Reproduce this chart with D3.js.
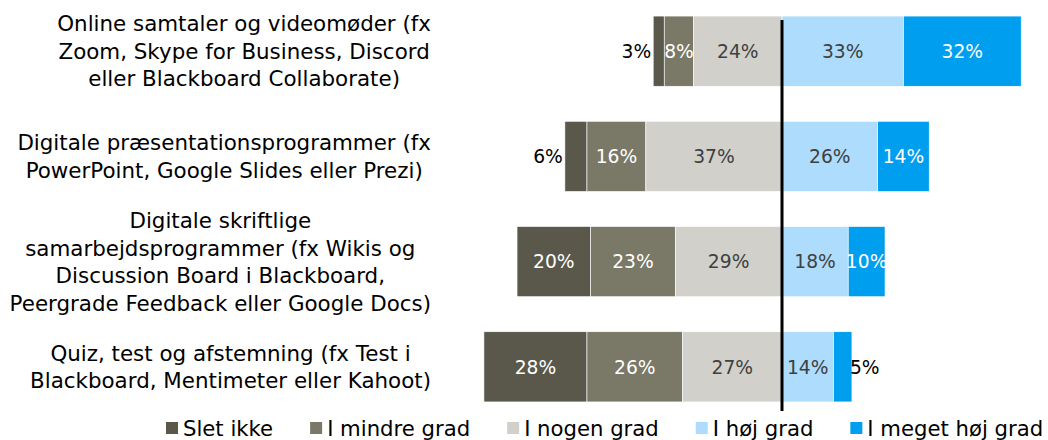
<!DOCTYPE html>
<html>
<head>
<meta charset="utf-8">
<script src="https://cdn.jsdelivr.net/npm/d3@7"></script>
<style>
  html, body { margin: 0; padding: 0; background: #fff; }
  svg { display: block; font-family: "DejaVu Sans", Verdana, sans-serif; }
</style>
</head>
<body>
<svg id="chart" width="1048" height="440"></svg>
<script>
// Categories (line breaks mark how each label wraps)
const categories = [
  "Online samtaler og videomøder (fx\nZoom, Skype for Business, Discord\neller Blackboard Collaborate)",
  "Digitale præsentationsprogrammer (fx\nPowerPoint, Google Slides eller Prezi)",
  "Digitale skriftlige\nsamarbejdsprogrammer (fx Wikis og\nDiscussion Board i Blackboard,\nPeergrade Feedback eller Google Docs)",
  "Quiz, test og afstemning (fx Test i\nBlackboard, Mentimeter eller Kahoot)"
];

const seriesNames = ["Slet ikke", "I mindre grad", "I nogen grad", "I høj grad", "I meget høj grad"];

// Shares in percent, one value per category
const sletIkke       = [3, 6, 20, 28];
const iMindreGrad    = [8, 16, 23, 26];
const iNogenGrad     = [24, 37, 29, 27];
const iHoejGrad      = [33, 26, 18, 14];
const iMegetHoejGrad = [32, 14, 10, 5];

const colors = ["#5a584b", "#7a7866", "#d1d0cb", "#aedcfd", "#009eef"];
const labelColors = ["#ffffff", "#ffffff", "#404040", "#404040", "#ffffff"];

const svg = d3.select("#chart");

const x = d3.scaleLinear().domain([-80, 70]).range([487.6, 1039.6]);
const y = d3.scaleBand().domain(categories).range([-1.5, 419.5])
  .paddingInner(0.333).paddingOuter(0.167);

// Diverging segments: the three lower answers sit left of zero,
// the two higher answers to the right.
const segments = [];
categories.forEach((cat, i) => {
  const v = [sletIkke[i], iMindreGrad[i], iNogenGrad[i], iHoejGrad[i], iMegetHoejGrad[i]];
  const left2 = -v[2], left1 = left2 - v[1], left0 = left1 - v[0];
  segments.push({ cat, s: 0, x0: left0, x1: left1, v: v[0], outer: "left" });
  segments.push({ cat, s: 1, x0: left1, x1: left2, v: v[1] });
  segments.push({ cat, s: 2, x0: left2, x1: 0, v: v[2] });
  segments.push({ cat, s: 3, x0: 0, x1: v[3], v: v[3] });
  segments.push({ cat, s: 4, x0: v[3], x1: v[3] + v[4], v: v[4], outer: "right" });
});

svg.append("g").selectAll("rect").data(segments).join("rect")
  .attr("x", d => x(d.x0))
  .attr("y", d => y(d.cat))
  .attr("width", d => x(d.x1) - x(d.x0))
  .attr("height", y.bandwidth())
  .attr("fill", d => colors[d.s])
  .attr("stroke", "#ffffff")
  .attr("stroke-width", 0.6);

// Zero line
svg.append("line")
  .attr("x1", x(0)).attr("x2", x(0))
  .attr("y1", y(categories[0]) + 4)
  .attr("y2", y(categories[categories.length - 1]) + y.bandwidth() + 9)
  .attr("stroke", "#000").attr("stroke-width", 3);

// Value labels; very small outer segments get their label just outside the bar
const labelSize = 18.7;
svg.append("g").selectAll("text").data(segments).join("text")
  .attr("font-size", labelSize)
  .attr("y", d => y(d.cat) + y.bandwidth() / 2 + labelSize * 0.36)
  .each(function (d) {
    const t = d3.select(this);
    const small = d.v < 7 && d.outer;
    if (small && d.outer === "left") {
      t.attr("x", x(d.x0) - 2).attr("text-anchor", "end").attr("fill", "#000");
    } else if (small && d.outer === "right") {
      t.attr("x", x(d.x1) - 2).attr("text-anchor", "start").attr("fill", "#000");
    } else {
      t.attr("x", (x(d.x0) + x(d.x1)) / 2).attr("text-anchor", "middle")
        .attr("fill", labelColors[d.s]);
    }
  })
  .text(d => d.v + "%");

// Category labels: wrapped lines centred within a block right-aligned to the bars
const catSize = 21.4, lineH = 27.5, catRight = 431;
const gCats = svg.append("g").attr("font-size", catSize).attr("fill", "#000");
categories.forEach(cat => {
  const lines = cat.split("\n");
  const grp = gCats.append("g");
  const texts = lines.map((ln, j) => grp.append("text")
    .attr("text-anchor", "middle")
    .attr("y", y(cat) + y.bandwidth() / 2 + (j - (lines.length - 1) / 2) * lineH + catSize * 0.36)
    .text(ln));
  const maxW = d3.max(texts, t => t.node().getComputedTextLength());
  texts.forEach(t => t.attr("x", catRight - maxW / 2));
});

// Legend
const legSize = 21.2, sq = 12, gapText = 5, gapItem = 37;
const gLeg = svg.append("g").attr("font-size", legSize);
let lx = 166;
const legY = 428;
seriesNames.forEach((name, i) => {
  gLeg.append("rect").attr("x", lx).attr("y", legY - sq / 2).attr("width", sq).attr("height", sq)
    .attr("fill", colors[i]);
  const t = gLeg.append("text").attr("x", lx + sq + gapText).attr("y", legY + 8)
    .attr("fill", "#000").text(name);
  lx += sq + gapText + t.node().getComputedTextLength() + gapItem;
});
</script>
</body>
</html>
